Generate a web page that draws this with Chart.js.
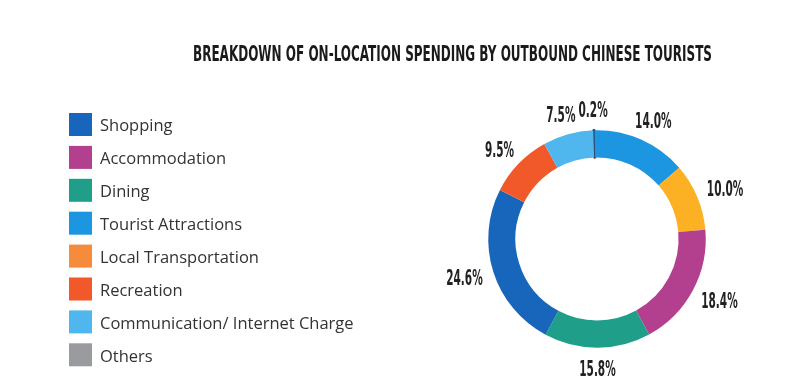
<!DOCTYPE html>
<html>
<head>
<meta charset="utf-8">
<script src="https://cdn.jsdelivr.net/npm/chart.js@4.4.1/dist/chart.umd.min.js"></script>
<style>
html,body{margin:0;padding:0;background:#ffffff;}
#wrap{width:800px;height:382px;position:relative;}
</style>
</head>
<body>
<div id="wrap"><canvas id="c" width="800" height="382"></canvas></div>
<script>
// ---- data ----
const chartTitle = 'BREAKDOWN OF ON-LOCATION SPENDING BY OUTBOUND CHINESE TOURISTS';
const categories = ['Shopping','Accommodation','Dining','Tourist Attractions','Local Transportation','Recreation','Communication/ Internet Charge','Others'];
const shares = [24.6, 18.4, 15.8, 14.0, 10.0, 9.5, 7.5, 0.2];
// order in which slices run clockwise from the top of the ring
const ringOrder = [7, 3, 4, 1, 2, 0, 5, 6];

// ---- styles ----
const sliceColors = ['#1866bb','#b3408f','#1f9f8a','#1d96e2','#fcb023','#f1592b','#50b6ee','#33476a'];
const legendColors = ['#1866bb','#b3408f','#1f9f8a','#1d96e2','#f58b3b','#f1592b','#50b6ee','#9a9b9f'];

const condensedFont = '"Liberation Sans Narrow","DejaVu Sans Condensed","Liberation Sans",sans-serif';

function drawSqueezed(ctx, text, x, y, size, factor, align) {
  ctx.save();
  ctx.font = 'bold ' + size + 'px ' + condensedFont;
  ctx.textBaseline = 'alphabetic';
  ctx.textAlign = align || 'center';
  ctx.translate(x, y);
  ctx.scale(factor, 1);
  ctx.fillText(text, 0, 0);
  ctx.restore();
}

const extrasPlugin = {
  id: 'extras',
  afterDraw(chart) {
    const ctx = chart.ctx;
    // title
    ctx.save();
    ctx.fillStyle = '#1a1a1a';
    ctx.font = 'bold 21px ' + condensedFont;
    const tw = ctx.measureText(chartTitle).width;
    const tf = 519 / tw;
    drawSqueezed(ctx, chartTitle, 452.5, 60.5, 21, tf, 'center');
    ctx.restore();

    // legend
    ctx.save();
    const lx = 69, ly0 = 113, step = 32.9, bs = 23;
    ctx.font = '16.5px "Open Sans", sans-serif';
    ctx.textBaseline = 'middle';
    ctx.textAlign = 'left';
    categories.forEach((name, i) => {
      const y = ly0 + i * step;
      ctx.fillStyle = legendColors[i];
      ctx.fillRect(lx, y, bs, bs);
      ctx.fillStyle = '#333333';
      ctx.fillText(name, 100, y + bs / 2 + 2);
    });
    ctx.restore();

    // percentage labels
    const meta = chart.getDatasetMeta(0);
    ctx.save();
    ctx.fillStyle = '#222222';
    const size = 21, capH = 15.2;
    ctx.font = 'bold ' + size + 'px ' + condensedFont;
    const factor = 36.5 / ctx.measureText('00.0%').width;
    meta.data.forEach((arc, j) => {
      const p = arc.getProps(['x','y','startAngle','endAngle','outerRadius'], true);
      const mid = (p.startAngle + p.endAngle) / 2;
      const txt = chart.data.datasets[0].data[j].toFixed(1) + '%';
      const w = ctx.measureText(txt).width * factor;
      const r = p.outerRadius + 12;
      const cx = p.x + r * Math.cos(mid) + (w / 2) * Math.cos(mid);
      const cy = p.y + r * Math.sin(mid) + (capH / 2 + 1) * Math.sin(mid);
      drawSqueezed(ctx, txt, cx, cy + capH / 2, size, factor, 'center');
    });
    ctx.restore();
  }
};

new Chart(document.getElementById('c'), {
  type: 'doughnut',
  data: {
    labels: ringOrder.map(i => categories[i]),
    datasets: [{
      data: ringOrder.map(i => shares[i]),
      backgroundColor: ringOrder.map(i => sliceColors[i]),
      borderColor: ringOrder.map(i => sliceColors[i]),
      borderWidth: ringOrder.map(i => (shares[i] < 1 ? 2.5 : 0))
    }]
  },
  options: {
    responsive: false,
    animation: false,
    cutout: '75%',
    rotation: -2,
    layout: { padding: { left: 487, right: 93, top: 129, bottom: 33 } },
    plugins: {
      legend: { display: false },
      title: { display: false },
      tooltip: { enabled: false }
    }
  },
  plugins: [extrasPlugin]
});
</script>
</body>
</html>
